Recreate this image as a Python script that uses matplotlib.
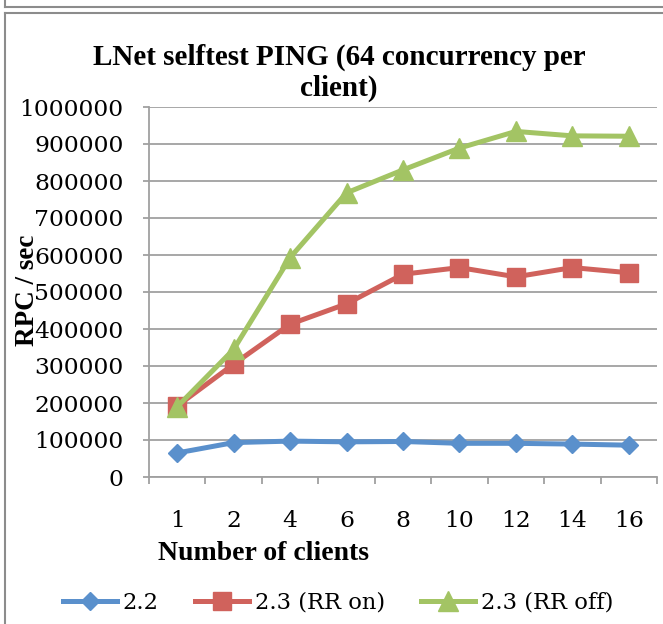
import matplotlib
matplotlib.use("Agg")
import matplotlib.pyplot as plt
from matplotlib.lines import Line2D
import numpy as np

# ---- data ----
clients = ['1', '2', '4', '6', '8', '10', '12', '14', '16']
v22 = [65000, 93000, 97000, 95000, 96000, 91000, 91000, 89000, 86000]
v23_rr_on = [192000, 305000, 413000, 468000, 548000, 566000, 541000, 566000, 552000]
v23_rr_off = [190000, 345000, 593000, 768000, 830000, 889000, 934000, 922000, 921000]
series_labels = ['2.2', '2.3 (RR on)', '2.3 (RR off)']
yticks = list(range(0, 1000001, 100000))

W, H = 663, 624
fig = plt.figure(figsize=(W / 100, H / 100), dpi=100)

def fx(px):
    return px / W

def fy(py):
    return 1 - py / H

ax = fig.add_axes([fx(149), fy(477), fx(657) - fx(149), fy(107) - fy(477)])

blue = '#5A90CC'
red = '#D0625C'
green = '#A3C464'
grid_c = '#A0A0A0'

x = np.arange(len(clients))
l1, = ax.plot(x, v22, color=blue, lw=3.6, marker='D', ms=9.5, mec=blue, mfc=blue,
              solid_joinstyle='round', label=series_labels[0])
l2, = ax.plot(x, v23_rr_on, color=red, lw=3.6, marker='s', ms=13, mec=red, mfc=red,
              solid_joinstyle='round', label=series_labels[1])
l3, = ax.plot(x, v23_rr_off, color=green, lw=3.6, marker='^', ms=15, mec=green, mfc=green,
              solid_joinstyle='round', label=series_labels[2])

ax.set_xlim(-0.5, len(clients) - 0.5)
ax.set_ylim(0, 1000000)
ax.set_yticks(yticks)
ax.set_yticklabels([str(v) for v in yticks], fontsize=16.8, family='DejaVu Serif')
ax.set_xticks(x)
ax.set_xticklabels(clients, fontsize=16.8, family='DejaVu Serif')
ax.set_xticks(np.arange(-0.5, len(clients)), minor=True)
ax.tick_params(axis='x', which='major', length=0, pad=23.5)
ax.tick_params(axis='x', which='minor', length=5, width=1.3, color=grid_c, direction='out')
ax.tick_params(axis='y', which='major', length=4.3, width=1.3, color=grid_c, direction='out', pad=14)

ax.yaxis.grid(True, color=grid_c, lw=1.3)
ax.set_axisbelow(True)
for s in ['top', 'right']:
    ax.spines[s].set_visible(False)
for s in ['left', 'bottom']:
    ax.spines[s].set_color(grid_c)
    ax.spines[s].set_linewidth(1.3)

# titles and labels
bold = dict(family='Liberation Serif', fontweight='bold', color='black')
fig.text(fx(339), fy(57), 'LNet selftest PING (64 concurrency per', ha='center', va='center',
         fontsize=21, **bold)
fig.text(fx(339), fy(88), 'client)', ha='center', va='center', fontsize=21, **bold)
fig.text(fx(28), fy(290), 'RPC / sec', rotation=90, ha='center', va='center', fontsize=19.5, **bold)
fig.text(fx(264), fy(553), 'Number of clients', ha='center', va='center', fontsize=20, **bold)

leg = fig.legend(handles=[l1, l2, l3], labels=series_labels, loc='center',
                 bbox_to_anchor=(fx(338), fy(603)), ncol=3, frameon=False,
                 handlelength=2.4, handletextpad=0.25, columnspacing=1.6,
                 prop=dict(family='DejaVu Serif', size=16.3))

# outer frames
frame_c = '#8C8C8C'
fig.add_artist(Line2D([fx(5), fx(5)], [fy(0), fy(7)], color=frame_c, lw=1.5))
fig.add_artist(Line2D([fx(5), fx(663)], [fy(7), fy(7)], color=frame_c, lw=1.5))
fig.add_artist(Line2D([fx(5), fx(663)], [fy(13), fy(13)], color=frame_c, lw=1.5))
fig.add_artist(Line2D([fx(5), fx(5)], [fy(13), fy(624)], color=frame_c, lw=1.5))

fig.savefig('out.png', dpi=100)
